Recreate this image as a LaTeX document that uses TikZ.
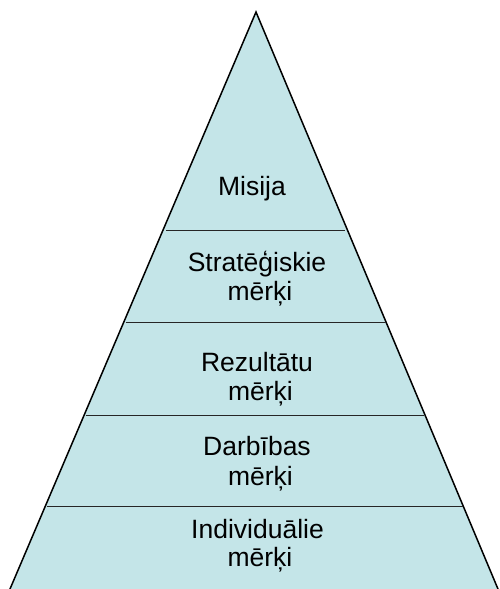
\documentclass[tikz,border=0pt]{standalone}
\usepackage{fontspec}
\setmainfont{Liberation Sans}
\definecolor{tierfill}{RGB}{196,229,232}
\tikzset{
  tiertext/.style={anchor=base, inner sep=0pt, font=\fontsize{26.5}{31.8}\selectfont},
  divider/.style={draw=black!85, line width=1pt}
}
\begin{document}
\begin{tikzpicture}[x=1pt, y=-1pt]
  \useasboundingbox (0,0) rectangle (499,589);
  \clip (0,0) rectangle (499,589);
  % pyramid body
  \coordinate (apex) at (256,12);
  \coordinate (bl) at (5.3,600);
  \coordinate (br) at (502.6,600);
  \fill[tierfill] (apex) -- (bl) -- (br) -- cycle;
  \draw[line width=1.5pt, line join=miter] (bl) -- (apex) -- (br);
  % tier dividers
  \draw[divider] (166,230.7) -- (345,230.7);
  \draw[divider] (125.5,322.7) -- (385.5,322.7);
  \draw[divider] (85.5,415) -- (424,415);
  \draw[divider] (46.5,506.7) -- (462.5,506.7);
  % tier labels
  \node[tiertext] (misija) at (252,195) {Misija};
  \node[tiertext] (strat1) at (257,271.7) {Stratēģiskie};
  \node[tiertext] (strat2) at (260,300.5) {mērķi};
  \node[tiertext] (rez1) at (257,371) {Rezultātu};
  \node[tiertext] (rez2) at (260.5,400) {mērķi};
  \node[tiertext] (darb1) at (257,455.7) {Darbības};
  \node[tiertext] (darb2) at (260.5,485.3) {mērķi};
  \node[tiertext] (ind1) at (257.5,538.3) {Individuālie};
  \node[tiertext] (ind2) at (260,566.7) {mērķi};
\end{tikzpicture}
\end{document}
